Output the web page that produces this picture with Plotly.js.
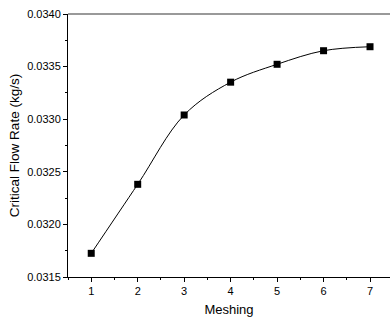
<!DOCTYPE html>
<html>
<head>
<meta charset="utf-8">
<script src="https://cdn.plot.ly/plotly-3.0.1.min.js"></script>
<style>html,body{margin:0;padding:0;background:#fff}#chart{width:390px;height:320px}</style>
</head>
<body>
<div id="chart"></div>
<script>
// Critical flow rate versus mesh level
const meshing = [1, 2, 3, 4, 5, 6, 7];
const flowRate = [0.031725, 0.032381, 0.033040, 0.033352, 0.033522, 0.033651, 0.033689];
const yTicks = [0.0315, 0.0320, 0.0325, 0.0330, 0.0335, 0.0340];
const xTicks = [1, 2, 3, 4, 5, 6, 7];

const trace = {
  x: meshing,
  y: flowRate,
  mode: 'lines+markers',
  line: {color: '#000', width: 1, shape: 'spline', smoothing: 1},
  marker: {symbol: 'square', size: 7, color: '#000'},
  cliponaxis: false,
  hoverinfo: 'skip'
};

const layout = {
  width: 390,
  height: 320,
  margin: {l: 68, r: 0, t: 14, b: 43},
  paper_bgcolor: '#fff',
  plot_bgcolor: '#fff',
  showlegend: false,
  font: {family: 'Liberation Sans, Arial, sans-serif', color: '#000', size: 11},
  xaxis: {
    range: [0.5, 7.43],
    tickvals: xTicks,
    ticktext: xTicks.map(String),
    ticks: 'outside', ticklen: 4, tickwidth: 1, tickcolor: '#000',
    minor: {dtick: 0.5, ticks: 'outside', ticklen: 2, tickcolor: '#000', tick0: 0.5},
    showline: true, linecolor: '#000', linewidth: 1,
    showgrid: false, zeroline: false,
    tickfont: {size: 11},
    title: {text: 'Meshing', font: {size: 13}, standoff: 8}
  },
  yaxis: {
    range: [0.0315, 0.0340],
    tickvals: yTicks,
    ticktext: yTicks.map(v => v.toFixed(4)),
    ticks: 'outside', ticklen: 4, tickwidth: 1, tickcolor: '#000',
    minor: {dtick: 0.00025, ticks: 'outside', ticklen: 2, tickcolor: '#000', tick0: 0.0315},
    showline: true, linecolor: '#000', linewidth: 1,
    showgrid: false, zeroline: false,
    tickfont: {size: 11},
    title: {text: 'Critical Flow Rate (kg/s)', font: {size: 13.5}, standoff: 4}
  },
  shapes: [{
    type: 'line', xref: 'paper', yref: 'paper',
    x0: 0, x1: 1, y0: 1, y1: 1,
    line: {color: '#777', width: 1.5}
  }]
};

Plotly.newPlot('chart', [trace], layout, {displayModeBar: false, staticPlot: true});
</script>
</body>
</html>
